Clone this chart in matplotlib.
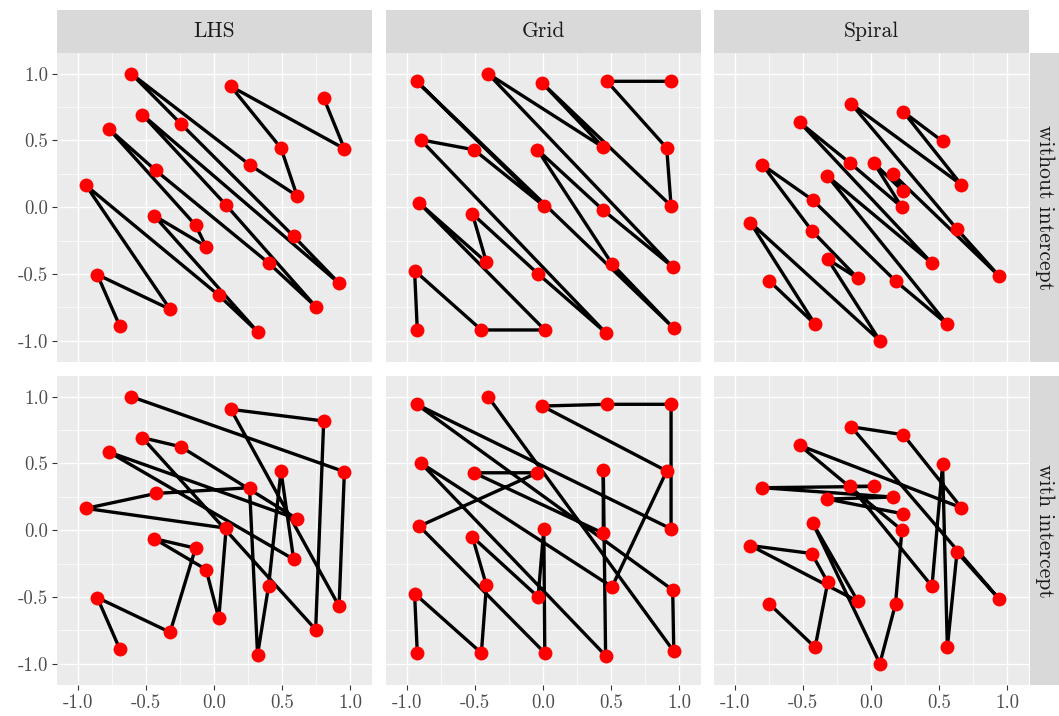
import matplotlib
matplotlib.use("Agg")
import matplotlib.pyplot as plt
from matplotlib.patches import Rectangle

# ---- data -----------------------------------------------------------------
designs = ["LHS", "Grid", "Spiral"]
models = ["without intercept", "with intercept"]

lhs_x = [-0.609, 0.123, 0.805, 0.957, -0.528, -0.245, -0.773, 0.491, 0.260,
         -0.429, 0.609, -0.942, 0.088, -0.442, -0.137, -0.059, 0.584, 0.400,
         -0.859, 0.918, 0.034, -0.324, 0.746, 0.319, -0.694]
lhs_y = [1.000, 0.905, 0.818, 0.438, 0.693, 0.625, 0.585, 0.443, 0.318,
         0.275, 0.085, 0.163, 0.015, -0.063, -0.135, -0.295, -0.218, -0.418,
         -0.505, -0.570, -0.660, -0.765, -0.745, -0.933, -0.890]
lhs_order_without = [24, 18, 21, 11, 20, 23, 13, 15, 14, 6, 9, 17, 22, 12, 4,
                     19, 16, 5, 0, 8, 10, 7, 1, 3, 2]
lhs_order_with = [24, 18, 21, 14, 13, 15, 20, 12, 11, 9, 8, 23, 17, 7, 16, 6,
                  10, 5, 4, 22, 2, 1, 19, 3, 0]

grid_x = [-0.930, -0.405, -0.007, 0.469, 0.940, -0.901, -0.508, -0.042, 0.442,
          0.908, -0.910, -0.520, 0.005, 0.442, 0.940, -0.945, -0.417, -0.037,
          0.506, 0.952, -0.925, -0.454, 0.012, 0.459, 0.960]
grid_y = [0.943, 1.000, 0.930, 0.943, 0.943, 0.505, 0.430, 0.430, 0.448,
          0.443, 0.030, -0.050, 0.010, -0.023, 0.010, -0.475, -0.413, -0.500,
          -0.425, -0.448, -0.920, -0.920, -0.920, -0.940, -0.908]
grid_order_without = [20, 15, 21, 22, 10, 16, 11, 17, 23, 5, 6, 12, 0, 24, 18,
                      7, 13, 19, 1, 8, 2, 14, 9, 3, 4]
grid_order_with = [20, 15, 21, 16, 11, 17, 12, 22, 10, 7, 6, 13, 8, 23, 5, 18,
                   9, 2, 3, 4, 14, 0, 19, 24, 1]

spiral_x = [-0.147, 0.236, -0.525, 0.525, -0.800, -0.152, 0.022, -0.321, 0.160,
            0.231, 0.663, -0.429, 0.226, -0.888, -0.437, 0.631, -0.319, -0.098,
            0.447, 0.179, 0.942, -0.751, -0.412, 0.560, 0.064]
spiral_y = [0.775, 0.715, 0.635, 0.493, 0.318, 0.328, 0.328, 0.233, 0.248,
            0.123, 0.168, 0.053, 0.000, -0.115, -0.175, -0.165, -0.390, -0.533,
            -0.420, -0.553, -0.518, -0.550, -0.878, -0.878, -1.000]
spiral_order_without = [21, 22, 13, 24, 16, 17, 14, 4, 11, 19, 23, 7, 18, 2, 5,
                        12, 6, 9, 8, 20, 15, 0, 10, 1, 3]
spiral_order_with = [21, 22, 16, 14, 13, 17, 11, 24, 19, 12, 2, 10, 1, 0, 20,
                     15, 23, 3, 18, 5, 6, 4, 8, 7, 9]

tick_values = [-1.0, -0.5, 0.0, 0.5, 1.0]
tick_labels = ["-1.0", "-0.5", "0.0", "0.5", "1.0"]
minor_values = [-0.75, -0.25, 0.25, 0.75]

points = {
    "LHS": (lhs_x, lhs_y, lhs_order_without, lhs_order_with),
    "Grid": (grid_x, grid_y, grid_order_without, grid_order_with),
    "Spiral": (spiral_x, spiral_y, spiral_order_without, spiral_order_with),
}

# ---- layout (pixels) ------------------------------------------------------
W, H = 1059, 716
col_left = [57, 386, 714]
panel_w = 315
row_top = [53, 376]
panel_h = 309
strip_top = 10
strip_right = (1030, 1059)

FONT = "cmr10"
plt.rcParams["axes.unicode_minus"] = False

fig = plt.figure(figsize=(W / 100, H / 100), dpi=100)
fig.patch.set_facecolor("white")


def fig_rect(x0, y0, w, h):
    return [x0 / W, 1 - (y0 + h) / H, w / W, h / H]


for r, model in enumerate(models):
    for c, design in enumerate(designs):
        xs, ys, order_wo, order_w = points[design]
        order = order_wo if r == 0 else order_w
        px = [xs[i] for i in order]
        py = [ys[i] for i in order]

        ax = fig.add_axes(fig_rect(col_left[c], row_top[r], panel_w, panel_h))
        ax.set_facecolor("#EBEBEB")
        ax.set_xlim(-1.155, 1.16)
        ax.set_ylim(-1.16, 1.155)
        for s in ax.spines.values():
            s.set_visible(False)

        for v in minor_values:
            ax.axvline(v, color="white", lw=0.5, zorder=0.5)
            ax.axhline(v, color="white", lw=0.5, zorder=0.5)
        for v in tick_values:
            ax.axvline(v, color="white", lw=0.95, zorder=0.6)
            ax.axhline(v, color="white", lw=0.95, zorder=0.6)

        ax.plot(px, py, color="black", lw=2.4, solid_capstyle="butt",
                solid_joinstyle="round", zorder=2)
        ax.plot(px, py, linestyle="none", marker="o", markersize=10,
                markerfacecolor="#FF0000", markeredgecolor="#FF0000",
                markeredgewidth=0, zorder=3)

        ax.set_xticks(tick_values)
        ax.set_yticks(tick_values)
        ax.tick_params(length=3.5, width=0.8, color="#333333",
                       labelcolor="#4D4D4D", labelsize=13.5, pad=3)
        if r == 1:
            ax.set_xticklabels(tick_labels, fontfamily=FONT)
        else:
            ax.tick_params(axis="x", length=0, labelbottom=False)
        if c == 0:
            ax.set_yticklabels(tick_labels, fontfamily=FONT)
        else:
            ax.tick_params(axis="y", length=0, labelleft=False)

# top strips
for c, design in enumerate(designs):
    sx = fig.add_axes(fig_rect(col_left[c], strip_top, panel_w,
                               row_top[0] - strip_top))
    sx.set_facecolor("#D9D9D9")
    sx.set_xticks([])
    sx.set_yticks([])
    for s in sx.spines.values():
        s.set_visible(False)
    sx.text(0.5, 0.5, design, ha="center", va="center", fontsize=15.5,
            color="#1A1A1A", fontfamily=FONT, transform=sx.transAxes)

# right strips
for r, model in enumerate(models):
    sx = fig.add_axes(fig_rect(strip_right[0], row_top[r],
                               strip_right[1] - strip_right[0], panel_h))
    sx.set_facecolor("#D9D9D9")
    sx.set_xticks([])
    sx.set_yticks([])
    for s in sx.spines.values():
        s.set_visible(False)
    sx.text(0.5, 0.5, model, ha="center", va="center", rotation=-90,
            fontsize=15.5, color="#1A1A1A", fontfamily=FONT,
            transform=sx.transAxes)

fig.savefig("out.png", dpi=100, facecolor="white")
